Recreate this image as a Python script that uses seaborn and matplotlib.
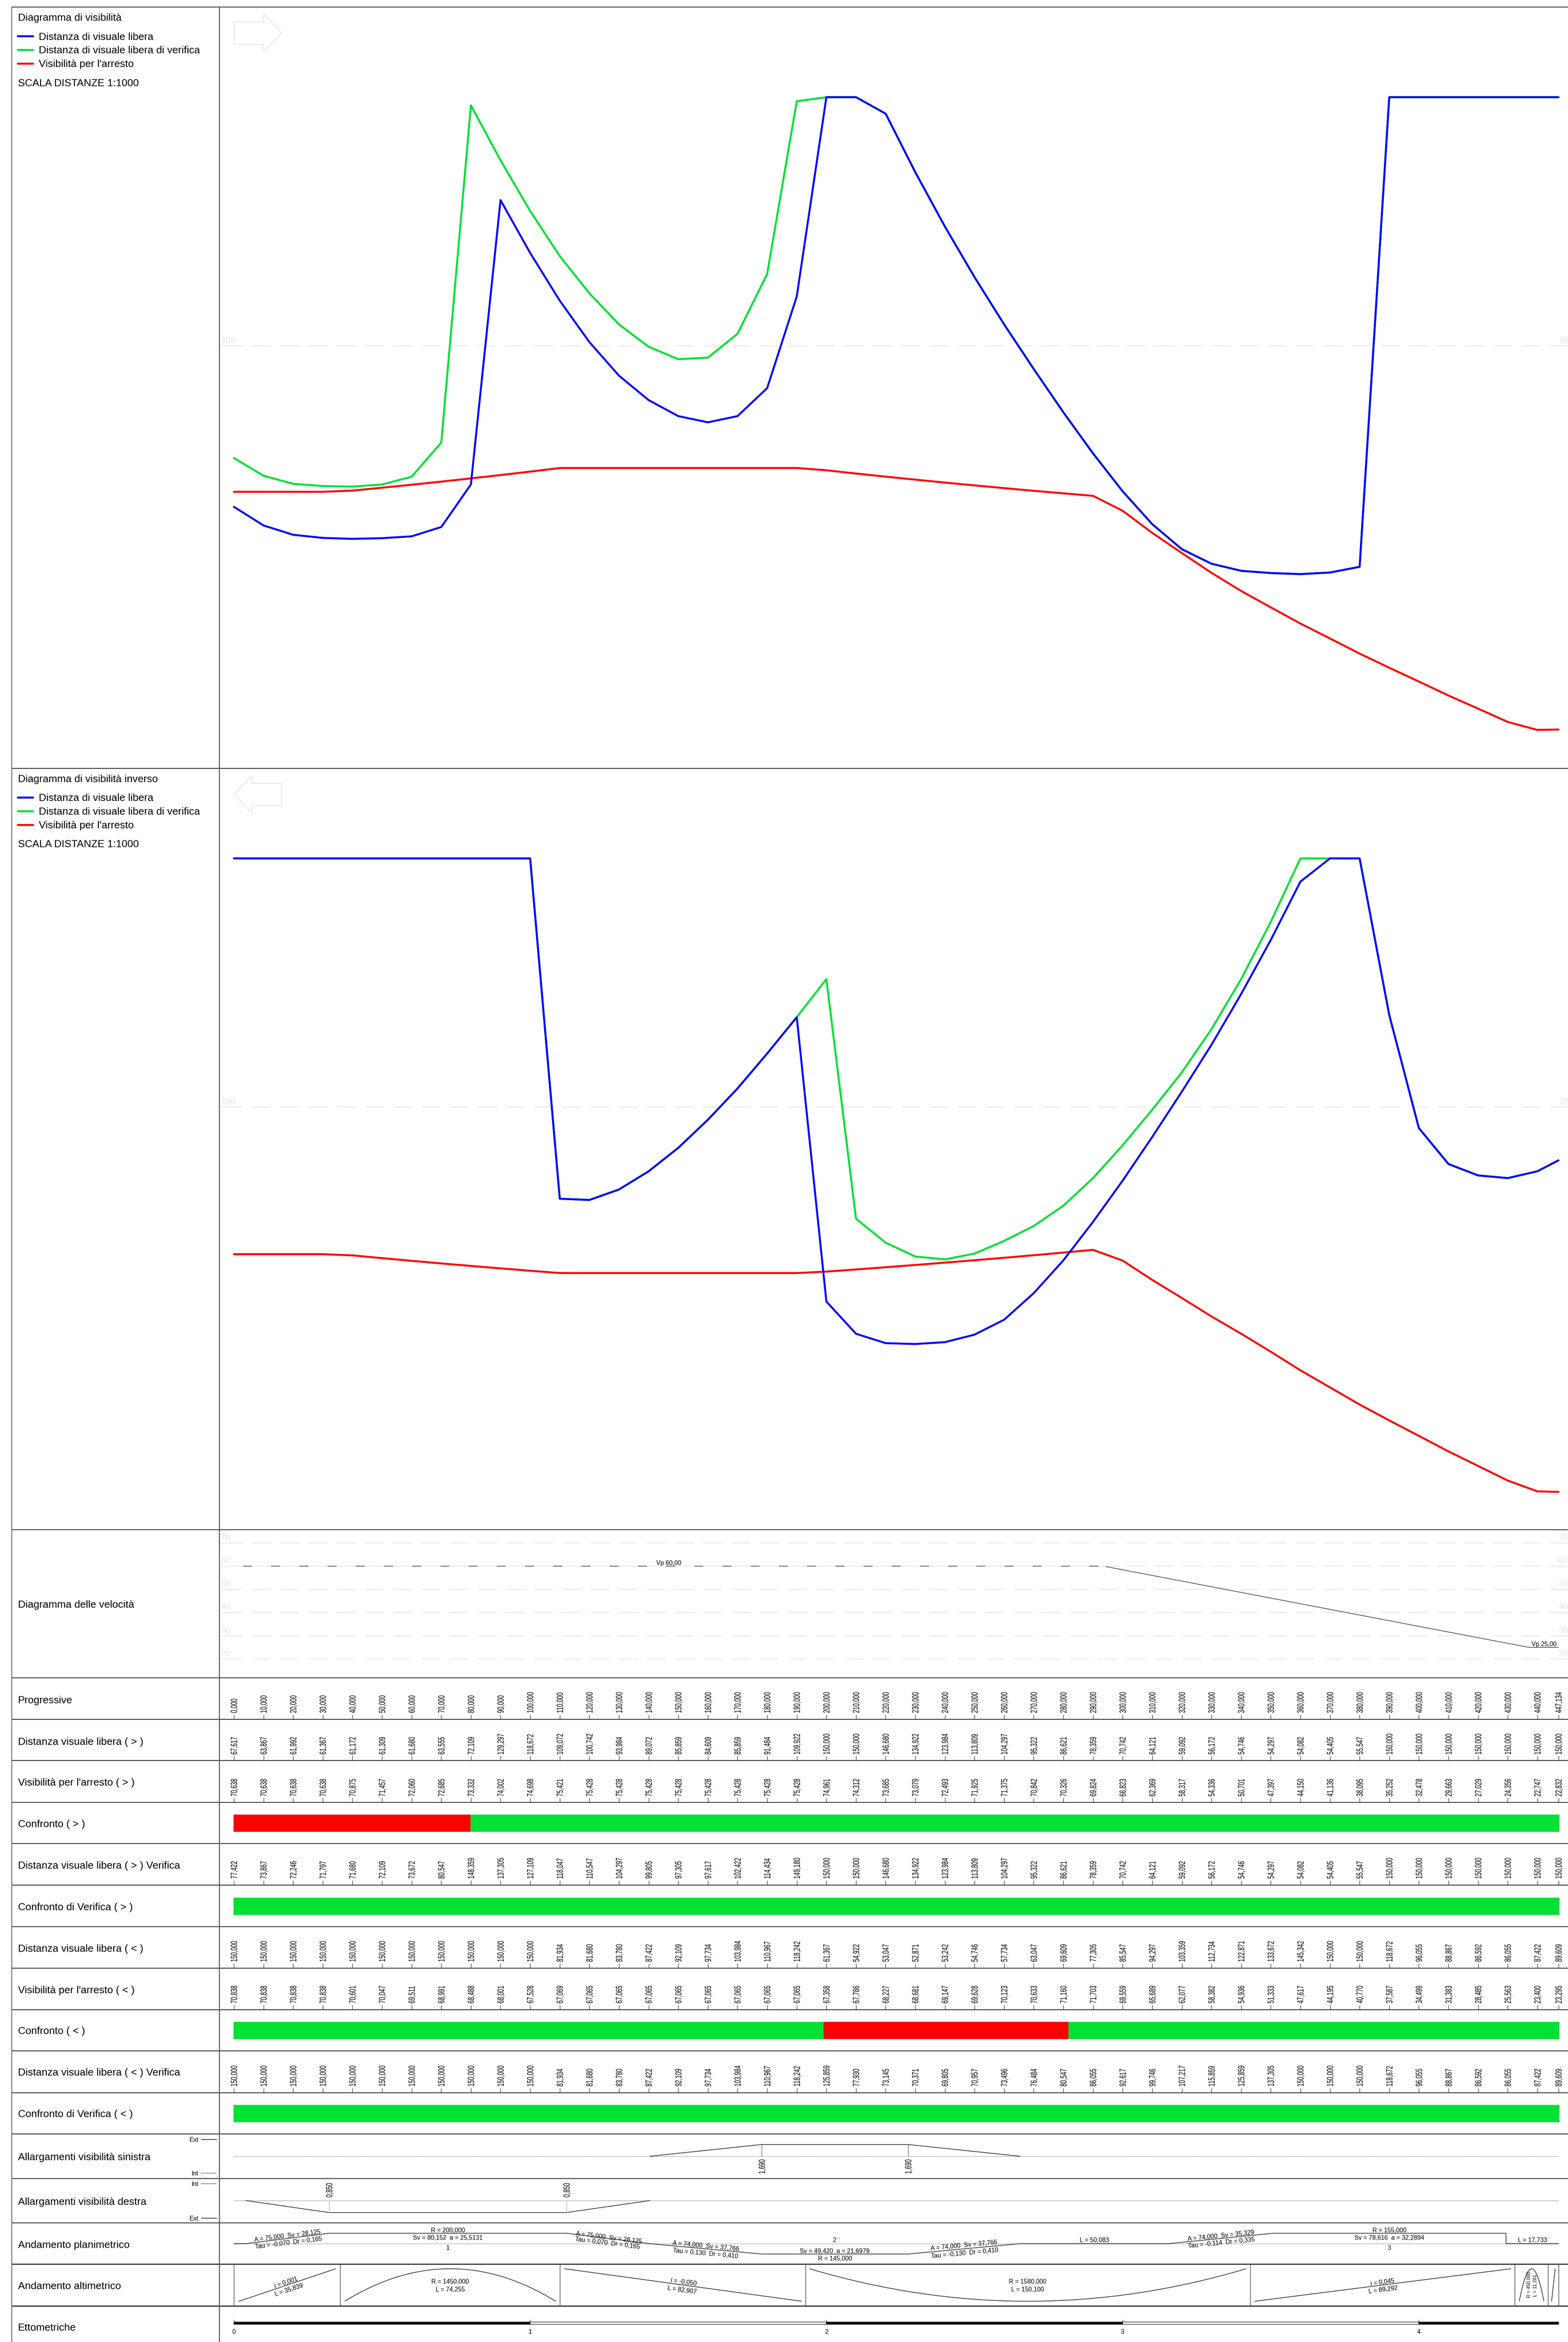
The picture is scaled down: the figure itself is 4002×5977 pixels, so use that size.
import numpy as np
import matplotlib
matplotlib.use("Agg")
import matplotlib.pyplot as plt
import matplotlib.patheffects as pe
from matplotlib.lines import Line2D
from matplotlib.patches import Polygon, PathPatch
from matplotlib.path import Path
from matplotlib.transforms import Affine2D
import seaborn as sns

# ---------------------------------------------------------------- data
progressive = [0, 10, 20, 30, 40, 50, 60, 70, 80, 90, 100, 110, 120, 130, 140, 150, 160, 170, 180, 190,
               200, 210, 220, 230, 240, 250, 260, 270, 280, 290, 300, 310, 320, 330, 340, 350, 360, 370,
               380, 390, 400, 410, 420, 430, 440, 447.134]
dist_gt = [67.617, 63.867, 61.992, 61.367, 61.172, 61.309, 61.680, 63.555, 72.109, 129.297, 118.672, 109.072,
           100.742, 93.984, 89.072, 85.859, 84.609, 85.859, 91.484, 109.922, 150, 150, 146.680, 134.922,
           123.984, 113.809, 104.297, 95.322, 86.621, 78.359, 70.742, 64.121, 59.092, 56.172, 54.746, 54.297,
           54.082, 54.405, 55.547, 150, 150, 150, 150, 150, 150, 150]
vis_gt = [70.638, 70.638, 70.638, 70.638, 70.875, 71.457, 72.060, 72.685, 73.332, 74.002, 74.698, 75.421,
          75.428, 75.428, 75.428, 75.428, 75.428, 75.428, 75.428, 75.428, 74.961, 74.312, 73.685, 73.079,
          72.493, 71.925, 71.375, 70.842, 70.326, 69.824, 66.823, 62.369, 58.317, 54.336, 50.701, 47.397,
          44.150, 41.136, 38.095, 35.252, 32.478, 29.663, 27.029, 24.356, 22.747, 22.832]
ver_gt = [77.422, 73.867, 72.246, 71.797, 71.680, 72.109, 73.672, 80.547, 148.359, 137.305, 127.109, 118.047,
          110.547, 104.297, 99.805, 97.305, 97.617, 102.422, 114.434, 149.180, 150, 150, 146.680, 134.922,
          123.984, 113.809, 104.297, 95.322, 86.621, 78.359, 70.742, 64.121, 59.092, 56.172, 54.746, 54.297,
          54.082, 54.405, 55.547, 150, 150, 150, 150, 150, 150, 150]
dist_lt = [150, 150, 150, 150, 150, 150, 150, 150, 150, 150, 150, 81.934, 81.680, 83.780, 87.422, 92.109,
           97.734, 103.984, 110.967, 118.242, 61.367, 54.922, 53.047, 52.871, 53.242, 54.746, 57.734, 63.047,
           69.609, 77.305, 85.547, 94.297, 103.359, 112.734, 122.871, 133.672, 145.342, 150, 150, 118.672,
           96.055, 88.867, 86.592, 86.055, 87.422, 89.609]
vis_lt = [70.838, 70.838, 70.838, 70.838, 70.601, 70.047, 69.511, 68.991, 68.488, 68.001, 67.528, 67.069,
          67.065, 67.065, 67.065, 67.065, 67.065, 67.065, 67.065, 67.065, 67.358, 67.786, 68.227, 68.681,
          69.147, 69.628, 70.123, 70.633, 71.160, 71.703, 69.559, 65.689, 62.077, 58.382, 54.936, 51.333,
          47.617, 44.195, 40.770, 37.587, 34.499, 31.383, 28.485, 25.563, 23.400, 23.295]
ver_lt = [150, 150, 150, 150, 150, 150, 150, 150, 150, 150, 150, 81.934, 81.680, 83.780, 87.422, 92.109,
          97.734, 103.984, 110.967, 118.242, 125.859, 77.930, 73.145, 70.371, 69.805, 70.957, 73.496, 76.484,
          80.547, 86.055, 92.617, 99.746, 107.217, 115.859, 125.859, 137.305, 150, 150, 150, 118.672,
          96.055, 88.867, 86.592, 86.055, 87.422, 89.609]

speed_x = [0, 293.6, 437.1, 447.134]
speed_v = [60, 60, 25, 25]
speed_grid = [70, 60, 50, 40, 30, 20]

conf_gt_from, conf_gt_to, conf_gt_ok = [0, 80], [80, 447.134], [False, True]
conf_vgt_from, conf_vgt_to, conf_vgt_ok = [0], [447.134], [True]
conf_lt_from, conf_lt_to, conf_lt_ok = [0, 199.2, 281.8], [199.2, 281.8, 447.134], [True, False, True]
conf_vlt_from, conf_vlt_to, conf_vlt_ok = [0], [447.134], [True]

sin_x, sin_level = [140.421, 178.187, 227.607, 265.373], [0, 1, 1, 0]
sin_marks, sin_mark_labels = [178.187, 227.607], ["1,690", "1,690"]
des_x, des_level = [4.019, 32.144, 112.296, 140.421], [0, -1, -1, 0]
des_marks, des_mark_labels = [32.144, 112.296], ["0,850", "0,850"]

plan_x = [0, 4.019, 32.144, 112.296, 140.421, 178.187, 227.607, 265.373, 315.456, 350.785, 429.40, 429.40, 447.134]
plan_level = [0, 0, 1, 1, 0, -1, -1, 0, 0, 1, 1, 0, 0]

alt_stations = [0, 35.839, 110.094, 193.001, 343.101, 432.393, 443.654, 447.134]
alt_start = [1.7, 37.4, 111.6, 194.3, 344.6, 433.9, 444.8]
alt_end = [34.4, 108.6, 191.6, 341.7, 431.1, 442.2, 446.0]
alt_kind = ["up", "crest", "down", "sag", "up", "crest", "up"]

etto_start = [0, 100, 200, 300, 400]
etto_end = [100, 200, 300, 400, 447.134]
etto_labels = ["0", "1", "2", "3", "4"]

row_labels = ["Progressive", "Distanza visuale libera ( > )", "Visibilità per l'arresto ( > )", "Confronto ( > )",
              "Distanza visuale libera ( > ) Verifica", "Confronto di Verifica ( > )",
              "Distanza visuale libera ( < )", "Visibilità per l'arresto ( < )", "Confronto ( < )",
              "Distanza visuale libera ( < ) Verifica", "Confronto di Verifica ( < )"]
legend_labels = ["Distanza di visuale libera", "Distanza di visuale libera di verifica", "Visibilità per l'arresto"]

# ---------------------------------------------------------------- style
sns.set_theme(style="white")
plt.rcParams["font.family"] = ["Liberation Sans", "DejaVu Sans"]
plt.rcParams["lines.scale_dashes"] = False

W, H = 4002, 5977
X0, PPM = 597.0, 7.561
XL, XR = 560, 4002
BLUE, GREEN, RED = "#0000ff", "#00e035", "#ff0000"
GRID = "#e6e6e6"
PT = 0.72          # points per pixel at dpi 100
BIG, SMALL, TICK = 19, 11.5, 10.7

fig = plt.figure(figsize=(W / 100, H / 100), dpi=100, facecolor="white")
PX = Affine2D().scale(1 / W, -1 / H).translate(0, 1) + fig.transFigure


class Stretch(pe.AbstractPathEffect):
    """Real text, drawn taller than wide like the tall numerals of the source."""
    def __init__(self, sy):
        super().__init__()
        self.s = Affine2D().scale(1, sy)

    def draw_path(self, renderer, gc, tpath, affine, rgbFace=None):
        renderer.draw_path(gc, tpath, self.s + affine, rgbFace)


def D(px):
    return (px - X0) / PPM


def panel(y0, y1):
    ax = fig.add_axes([XL / W, 1 - y1 / H, (XR - XL) / W, (y1 - y0) / H])
    ax.set_xlim(D(XL), D(XR))
    ax.axis("off")
    return ax


def line(ax, x, y, color="black", px=2.0, **kw):
    sns.lineplot(x=x, y=y, color=color, lw=px * PT, estimator=None, sort=False, errorbar=None,
                 legend=False, ax=ax, **kw)


def txt(x, y, s, size=SMALL, ha="center", rot=0, color="black"):
    fig.text(x, y, s, transform=PX, fontsize=size, ha=ha, va="center_baseline", rotation=rot,
             rotation_mode="anchor", color=color)


def seg(xs, ys, color="black", px=2.0, **kw):
    fig.add_artist(Line2D(xs, ys, transform=PX, color=color, lw=px * PT, **kw))


def vlabel(ax, x, y, s, dy, size=TICK, sy=1.55, half=8):
    ax.annotate(s, xy=(x, y), xycoords="data",
                xytext=(half * PT, dy * PT), textcoords="offset points", rotation=90, rotation_mode="anchor",
                ha="left", va="baseline", fontsize=size, annotation_clip=False,
                path_effects=[Stretch(sy)], color="black")


def grid_level(ax, g, label, z=1):
    ax.plot([D(563), D(620)], [g, g], color=GRID, lw=2 * PT, zorder=z)
    ax.plot([D(3956), D(XR)], [g, g], color=GRID, lw=2 * PT, zorder=z)
    ax.plot([D(643), D(3933)], [g, g], color=GRID, lw=2 * PT, ls=(0, (49 * PT, 23 * PT)), zorder=z)
    for xpx in (564, 3978):
        ax.annotate(label, xy=(D(xpx), g), xytext=(0, 3 * PT), textcoords="offset points", fontsize=15.5,
                    color=GRID, ha="left", va="bottom", annotation_clip=False)


def visibility(y0, y1, y150, scale, y_grid, blue, green, red):
    ax = panel(y0, y1)
    ax.set_ylim(150 - (y1 - y150) / scale, 150 - (y0 - y150) / scale)
    grid_level(ax, 150 - (y_grid - y150) / scale, "100")
    for vals, col in ((red, RED), (green, GREEN), (blue, BLUE)):
        line(ax, progressive, vals, color=col, px=5)
    return ax


# ---------------------------------------------------------------- visibility diagrams
OFFSET = 1942.7
visibility(18, 1960.7, 248.0, 12.69, 882.7, dist_gt, ver_gt, vis_gt)
visibility(1960.7, 3904, 248.0 + OFFSET, 12.76, 2825, dist_lt, ver_lt, vis_lt)

for dy, title in ((0, "Diagramma di visibilità"), (OFFSET, "Diagramma di visibilità inverso")):
    txt(46, 44 + dy, title, BIG, "left")
    for yy, lab, col in zip((92, 127, 162), legend_labels, (BLUE, GREEN, RED)):
        seg([45, 84], [yy + dy, yy + dy], color=col, px=5)
        txt(99, yy + dy, lab, BIG, "left")
    txt(46, 210 + dy, "SCALA DISTANZE 1:1000", BIG, "left")

fig.add_artist(Polygon([(598, 56), (673, 56), (673, 37), (719, 84), (673, 132), (673, 113), (598, 113)],
                       closed=True, fill=False, ec=GRID, lw=2 * PT, transform=PX))
fig.add_artist(Polygon([(597, 2027), (643, 1980), (643, 1999), (719, 1999), (719, 2056), (643, 2056), (643, 2075)],
                       closed=True, fill=False, ec=GRID, lw=2 * PT, transform=PX))

# ---------------------------------------------------------------- speed diagram
ax = panel(3904, 4282)
ax.set_ylim(60 - (4282 - 3997) / 5.92, 60 - (3904 - 3997) / 5.92)
line(ax, speed_x, speed_v, px=1.2)
for g in speed_grid:
    grid_level(ax, g, str(g), z=4 if g == 60 else 1)
txt(46, 4094, "Diagramma delle velocità", BIG, "left")
txt(1707, 3988, "Vp 60,00", 11.5)
txt(3941, 4195, "Vp 25,00", 11.5)

# ---------------------------------------------------------------- table rows
seps = [18, 1960.7, 3904, 4282, 4388, 4493, 4600, 4705, 4811, 4917, 5023, 5129, 5234, 5341, 5446, 5560, 5673,
        5778, 5885]
rows = [(4282, 4388, [f"{v:.3f}" for v in progressive], 16),
        (4388, 4493, [f"{v:.3f}" for v in dist_gt], 15),
        (4493, 4600, [f"{v:.3f}" for v in vis_gt], 15),
        (4705, 4811, [f"{v:.3f}" for v in ver_gt], 16),
        (4917, 5023, [f"{v:.3f}" for v in dist_lt], 16),
        (5023, 5129, [f"{v:.3f}" for v in vis_lt], 16),
        (5234, 5341, [f"{v:.3f}" for v in ver_lt], 16)]
for y0, y1, labs, gap in rows:
    ax = panel(y0, y1)
    ax.set_ylim(y1, y0)
    ax.vlines(progressive, y1 - 12, y1, color="#222222", lw=1.2 * PT)
    for x, s in zip(progressive, labs):
        vlabel(ax, x, y1, s.replace(".", ","), gap)

bars = [(4600, 4705, conf_gt_from, conf_gt_to, conf_gt_ok),
        (4811, 4917, conf_vgt_from, conf_vgt_to, conf_vgt_ok),
        (5129, 5234, conf_lt_from, conf_lt_to, conf_lt_ok),
        (5341, 5446, conf_vlt_from, conf_vlt_to, conf_vlt_ok)]
for y0, y1, a, b, ok in bars:
    ax = panel(y0, y1)
    ax.set_ylim(y1, y0)
    for s, e, good in zip(a, b, ok):
        col = GREEN if good else RED
        ax.barh((y0 + y1) / 2, e - s, left=s, height=41, color=col, edgecolor=col, linewidth=3 * PT)

for yy, lab in zip((4337, 4443, 4548, 4654, 4759, 4865, 4971, 5077, 5182, 5288, 5394), row_labels):
    txt(46, yy, lab, BIG, "left")


def level_panel(y0, y1, base, amp):
    ax = panel(y0, y1)
    ax.set_ylim((base - y1) / amp, (base - y0) / amp)
    return ax


def dotted_base(ax):
    ax.plot([0, progressive[-1]], [0, 0], color="#555555", lw=1.2 * PT, ls=(0, (1.4 * PT, 1.2 * PT)))


# ---------------------------------------------------------------- widenings
ax = level_panel(5446, 5560, 5503, 30)
dotted_base(ax)
line(ax, sin_x, sin_level, px=1.4)
ax.vlines(sin_marks, 0, 1, color="#555555", lw=1.2 * PT)
for x, s in zip(sin_marks, sin_mark_labels):
    vlabel(ax, x, 0, s, -45)
txt(46, 5504, "Allargamenti visibilità sinistra", BIG, "left")
txt(495, 5460, "Ext")
txt(497, 5546, "Int")
seg([514, 553], [5460, 5460], px=1.5)
seg([514, 553], [5546, 5546], px=1.5, ls=(0, (2 * PT, 1.5 * PT)))

ax = level_panel(5560, 5673, 5616, 30.6)
dotted_base(ax)
line(ax, des_x, des_level, px=1.4)
ax.vlines(des_marks, -1, 0, color="#aaaaaa", lw=1.2 * PT)
for x, s in zip(des_marks, des_mark_labels):
    vlabel(ax, x, 0, s, 8)
txt(46, 5618, "Allargamenti visibilità destra", BIG, "left")
txt(497, 5573, "Int")
txt(495, 5661, "Ext")
seg([514, 553], [5573, 5573], px=1.5, ls=(0, (2 * PT, 1.5 * PT)))
seg([514, 553], [5661, 5661], px=1.5)

# ---------------------------------------------------------------- plan
ax = level_panel(5673, 5778, 5726, 26.5)
dotted_base(ax)
line(ax, plan_x, plan_level, px=1.4)
txt(46, 5728, "Andamento planimetrico", BIG, "left")
for x, y, s, r in [
    (733, 5705, "A = 75,000  Sv = 28,125", 7), (736, 5723, "Tau = -0,070  Dr = 0,165", 7),
    (1143, 5691, "R = 200,000", 0), (1143, 5710, "Sv = 80,152  a = 25,5131", 0), (1143, 5736, "1", 0),
    (1554, 5709, "A = 75,000  Sv = 28,125", -7), (1551, 5723, "Tau = 0,070  Dr = 0,165", -7),
    (1802, 5731, "A = 74,000  Sv = 37,766", -5.3), (1801, 5750, "Tau = 0,130  Dr = 0,410", -5.3),
    (2130, 5716, "2", 0), (2130, 5744, "Sv = 49,420  a = 21,6979", 0), (2131, 5763, "R = 145,000", 0),
    (2460, 5729, "A = 74,000  Sv = 37,766", 5.3), (2462, 5749, "Tau = -0,130  Dr = 0,410", 5.3),
    (2793, 5716, "L = 50,083", 0),
    (3116, 5705, "A = 74,000  Sv = 35,329", 5.7), (3117, 5723, "Tau = -0,114  Dr = 0,335", 5.7),
    (3546, 5691, "R = 155,000", 0), (3546, 5710, "Sv = 78,616  a = 32,2894", 0), (3546, 5736, "3", 0),
    (3911, 5716, "L = 17,733", 0),
]:
    txt(x, y, s, 11.4, rot=r)

# ---------------------------------------------------------------- profile
ax = level_panel(5778, 5885, 5873, 83)
ax.vlines(alt_stations, (5873 - 5885) / 83, (5873 - 5778) / 83, color="#333333", lw=1.4 * PT)
for s, e, k in zip(alt_start, alt_end, alt_kind):
    if k == "up":
        line(ax, [s, e], [0, 1], px=1.4)
    elif k == "down":
        line(ax, [s, e], [1, 0], px=1.4)
    else:
        lo, ctl = (0, 2) if k == "crest" else (1, -1)
        ax.add_patch(PathPatch(Path([(s, lo), ((s + e) / 2, ctl), (e, lo)], [Path.MOVETO, Path.CURVE3, Path.CURVE3]),
                               fill=False, ec="black", lw=1.4 * PT))
txt(46, 5832, "Andamento altimetrico", BIG, "left")
for x, y, s, r in [
    (730, 5824, "i = 0,001", 18), (737, 5843, "L = 35,839", 18),
    (1149, 5822, "R = 1450,000", 0), (1149, 5842, "L = 74,255", 0),
    (1745, 5823, "i = -0,050", -7.8), (1741, 5843, "L = 82,907", -7.8),
    (2623, 5822, "R = 1580,000", 0), (2623, 5842, "L = 150,100", 0),
    (3528, 5823, "i = 0,045", 7.2), (3530, 5842, "L = 89,292", 7.2),
]:
    txt(x, y, s, 11.4, rot=r)
txt(3901, 5831, "R = 450,000", 8.8, rot=90)
txt(3917, 5833, "L = 11,261", 8.8, rot=90)

# ---------------------------------------------------------------- hectometres
ax = panel(5885, 5977)
ax.set_ylim(5977, 5885)
for i, (s, e) in enumerate(zip(etto_start, etto_end)):
    ax.barh(5928.5, e - s, left=s, height=6, color="black" if i % 2 == 0 else "white",
            edgecolor="#333333", linewidth=1.5 * PT)
    ax.vlines(s, 5920, 5932, color="#222222", lw=1.2 * PT)
    ax.text(s, 5949.5, etto_labels[i], fontsize=11.5, ha="center", va="center_baseline", color="black")
txt(46, 5938, "Ettometriche", BIG, "left")

# ---------------------------------------------------------------- frame
for y in seps:
    heavy = y in (5778, 5885)
    seg([30, XR], [y, y], color="#333333" if heavy else "#111111", px=3 if heavy else 1.8)
seg([30, 30], [18, H], color="#777777", px=2.5)
seg([560, 560], [18, H], color="#555555", px=2.5)

fig.savefig("out.png", dpi=100, facecolor="white")
